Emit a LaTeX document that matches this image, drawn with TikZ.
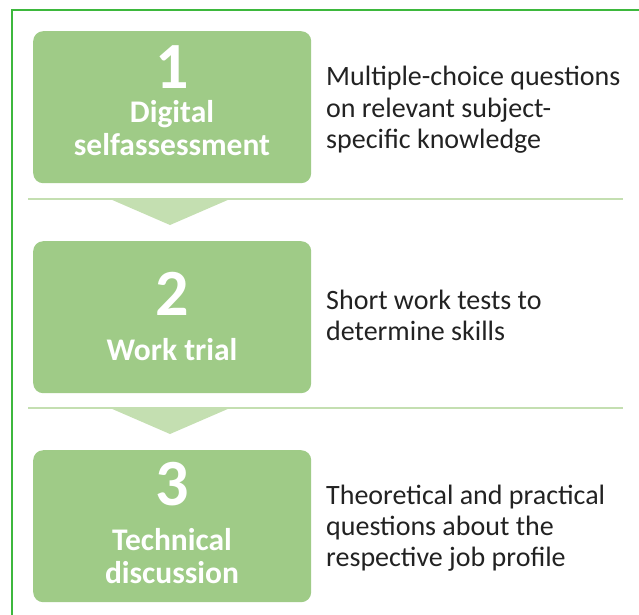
\documentclass[tikz,border=0pt]{standalone}
\usepackage{fontspec}
\setmainfont{Carlito}
\definecolor{boxgreen}{HTML}{9FCB87}
\definecolor{palegreen}{HTML}{C4DFB1}
\definecolor{framegreen}{HTML}{3DB83D}
\definecolor{bodytext}{HTML}{222222}
\begin{document}
\begin{tikzpicture}[x=1pt,y=-1pt,
  stepbox/.style={fill=boxgreen, rounded corners=10pt, minimum width=278pt, minimum height=152pt, inner sep=0pt, anchor=north west},
  stepnum/.style={text=white, font=\bfseries\fontsize{66}{66}\selectfont, anchor=base, inner sep=0pt},
  steplabel/.style={text=white, font=\bfseries\fontsize{31.5}{33}\selectfont, anchor=base, inner sep=0pt},
  desc/.style={text=bodytext, font=\fontsize{28}{31}\selectfont, align=left, anchor=base west, inner sep=0pt},
  sepline/.style={draw=palegreen, line width=2pt},
  chevron/.style={fill=palegreen}]
\useasboundingbox (0,0) rectangle (639,614);
% frame
\draw[framegreen, line width=1.5pt] (12,616) -- (12,10) -- (641,10);
% boxes
\node[stepbox] (b1) at (33,31) {};
\node[stepbox] (b2) at (33,241) {};
\node[stepbox] (b3) at (33,450) {};
% separators and chevrons
\coordinate (s1l) at (28,199); \coordinate (s1r) at (623,199);
\coordinate (s2l) at (28,408); \coordinate (s2r) at (623,408);
\draw[sepline] (s1l) -- (s1r);
\draw[sepline] (s2l) -- (s2r);
\fill[chevron] (110,199) -- (230,199) -- (170,225) -- cycle;
\fill[chevron] (110,408) -- (230,408) -- (170,434) -- cycle;
% box texts
\node[stepnum] (n1) at (172,88) {1};
\node[steplabel] (l1a) at (172,122) {Digital};
\node[steplabel] (l1b) at (172,155) {selfassessment};
\node[stepnum] (n2) at (172,315) {2};
\node[steplabel] (l2) at (172,360) {Work trial};
\node[stepnum] (n3) at (172,505) {3};
\node[steplabel] (l3a) at (172,550) {Technical};
\node[steplabel] (l3b) at (172,583) {discussion};
% descriptions
\node[desc] (d1a) at (326,85) {Multiple-choice questions};
\node[desc] (d1b) at (326,117) {on relevant subject-};
\node[desc] (d1c) at (326,148) {specific knowledge};
\node[desc] (d2a) at (326,309) {Short work tests to};
\node[desc] (d2b) at (326,340) {determine skills};
\node[desc] (d3a) at (326,504) {Theoretical and practical};
\node[desc] (d3b) at (326,535) {questions about the};
\node[desc] (d3c) at (326,566) {respective job profile};
\end{tikzpicture}
\end{document}
